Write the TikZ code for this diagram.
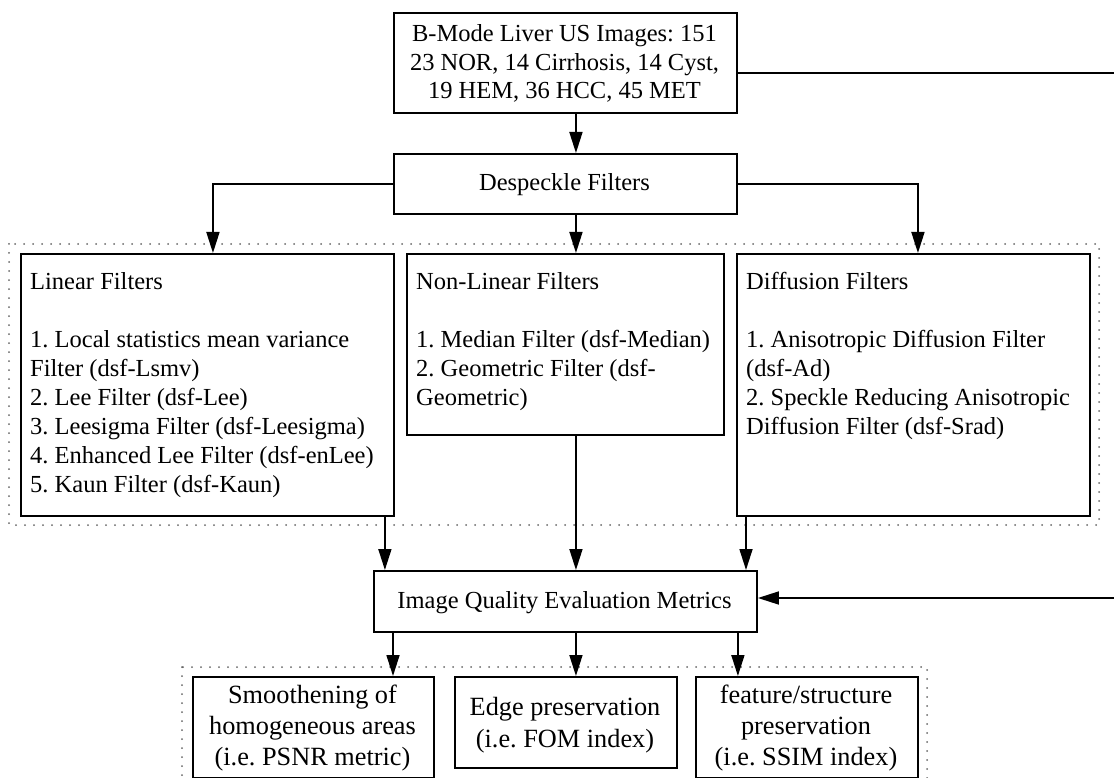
\documentclass[tikz,border=0pt]{standalone}
\usepackage{fontspec}
\setmainfont{Liberation Serif}
\usetikzlibrary{arrows.meta,calc}

\begin{document}
\frenchspacing
\begin{tikzpicture}[x=1pt,y=-1pt,
  box/.style={draw=black, line width=1.9pt, inner sep=0pt, anchor=north west},
  txt/.style={inner sep=0pt, font=\fontsize{24.5pt}{29pt}\selectfont},
  ltxt/.style={txt, anchor=north west, align=left},
  ctxt/.style={txt, anchor=north, align=center},
  btxt/.style={ctxt, font=\fontsize{26.3pt}{31pt}\selectfont},
  arr/.style={line width=1.7pt, -{Triangle[length=21pt,width=13pt]}},
  grp/.style={draw=black!60, line width=2pt, line cap=round, dash pattern=on 0pt off 9pt}
]
\useasboundingbox (0,0) rectangle (1114,778);

% dotted group frames
\draw[grp] (9,244) rectangle (1099,525);
\draw[grp] (182,667) rectangle (927,800);

% boxes
\node[box, minimum width=343pt, minimum height=100pt] (top)  at (393,12)  {};
\node[box, minimum width=343pt, minimum height=60pt]  (desp) at (393,153) {};
\node[box, minimum width=373pt, minimum height=262pt] (lin)  at (20,253)  {};
\node[box, minimum width=317pt, minimum height=181pt] (nl)   at (406,253) {};
\node[box, minimum width=353pt, minimum height=262pt] (dif)  at (736,253) {};
\node[box, minimum width=383pt, minimum height=61pt]  (iq)   at (373,570) {};
\node[box, minimum width=241pt, minimum height=101pt] (b1)   at (192,676) {};
\node[box, minimum width=222pt, minimum height=91pt]  (b2)   at (454,676) {};
\node[box, minimum width=222pt, minimum height=101pt] (b3)   at (695,676) {};

% texts
\node[ctxt, font=\fontsize{24.5pt}{28.5pt}\selectfont] (toptxt) at (564.5,21.5)
  {\rule{0pt}{20pt}B-Mode Liver US Images: 151\\23 NOR, 14 Cirrhosis, 14 Cyst,\\19 HEM, 36 HCC, 45 MET};
\node[txt, anchor=base] (desptxt) at (564.5,191) {Despeckle Filters};
\node[ltxt] (lintxt) at (30,269.5)
  {\rule{0pt}{20pt}Linear Filters\\[29pt]
   1. Local statistics mean variance\\
   Filter (dsf-Lsmv)\\
   2. Lee Filter (dsf-Lee)\\
   3. Leesigma Filter (dsf-Leesigma)\\
   4. Enhanced Lee Filter (dsf-enLee)\\
   5. Kaun Filter (dsf-Kaun)};
\node[ltxt] (nltxt) at (416,269.5)
  {\rule{0pt}{20pt}Non-Linear Filters\\[29pt]
   1. Median Filter (dsf-Median)\\
   2. Geometric Filter (dsf-\\
   Geometric)};
\node[ltxt] (diftxt) at (746,269.5)
  {\rule{0pt}{20pt}Diffusion Filters\\[29pt]
   1. Anisotropic Diffusion Filter\\
   (dsf-Ad)\\
   2. Speckle Reducing Anisotropic\\
   Diffusion Filter (dsf-Srad)};
\node[txt, anchor=base] (iqtxt) at (564.5,608.5) {Image Quality Evaluation Metrics};
\node[btxt] (b1txt) at (312.5,683.5)
  {\rule{0pt}{20pt}Smoothening of\\homogeneous areas\\(i.e. PSNR metric)};
\node[btxt, font=\fontsize{26.3pt}{32pt}\selectfont] (b2txt) at (565,695)
  {\rule{0pt}{20pt}Edge preservation\\(i.e. FOM index)};
\node[btxt] (b3txt) at (806,683.5)
  {\rule{0pt}{20pt}feature/structure\\preservation\\(i.e. SSIM index)};

% connectors
\coordinate (rc) at (1120,598);
\draw[arr] ([xshift=10.5pt]top.south) -- ([xshift=10.5pt]desp.north);
\draw[arr] (desp.west) -| ([xshift=5.5pt]lin.north);
\draw[arr] ([xshift=10.5pt]desp.south) -- ([xshift=10.5pt]nl.north);
\draw[arr] (desp.east) -| ([xshift=4.5pt]dif.north);

\draw[arr] ([xshift=-10pt]lin.south east) coordinate (la) -- (la |- iq.north);
\draw[arr] ([xshift=10.5pt]nl.south) -- ([xshift=10.5pt]iq.north);
\draw[arr] ([xshift=10pt]dif.south west) coordinate (da) -- (da |- iq.north);

\draw[arr] ([xshift=20pt]iq.south west) coordinate (ia) -- (ia |- b1.north);
\draw[arr] ([xshift=10.5pt]iq.south) -- ([xshift=10.5pt]iq.south |- b2.north);
\draw[arr] ([xshift=-20pt]iq.south east) coordinate (ib) -- (ib |- b3.north);

\draw[arr] ([yshift=-10pt]top.east) -| (rc) -- (rc -| iq.east);
\end{tikzpicture}
\end{document}
